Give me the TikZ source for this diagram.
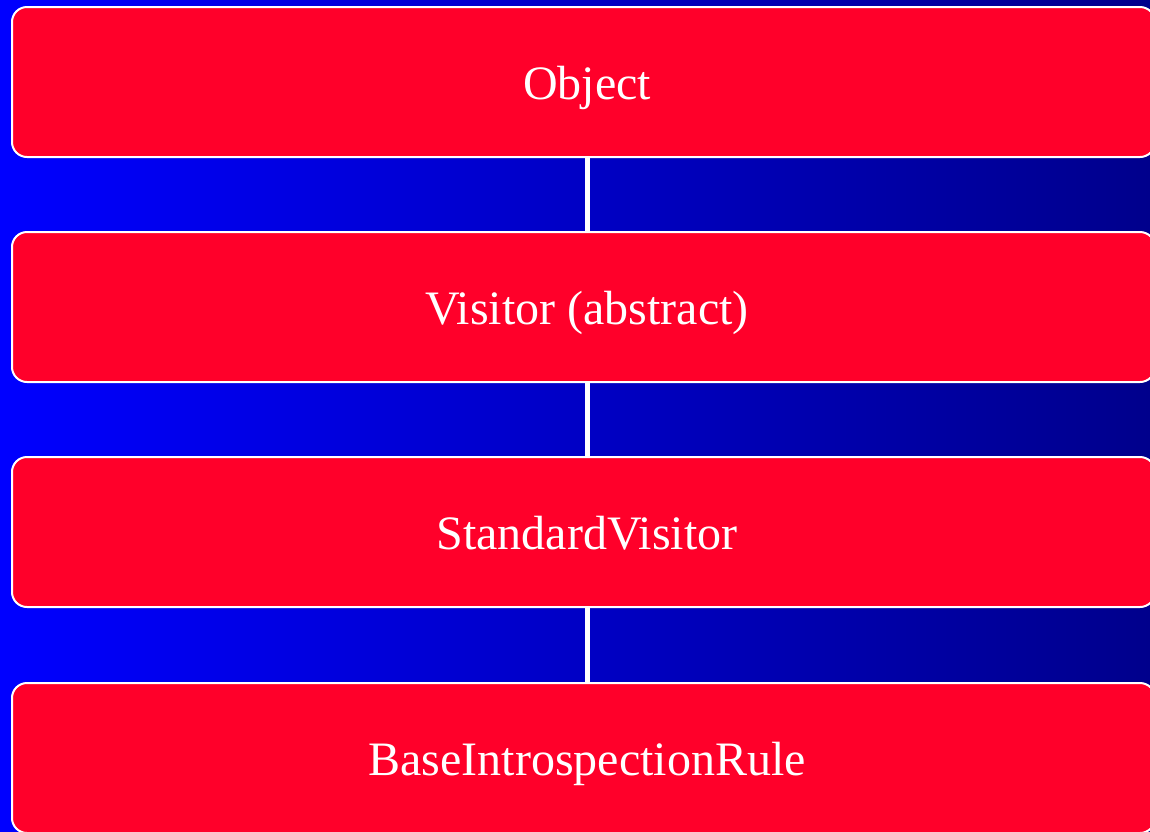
\documentclass[tikz,border=0pt]{standalone}
\usepackage{fontspec}
\setmainfont{Liberation Serif}
\definecolor{boxred}{RGB}{255,0,42}
\definecolor{bgleft}{RGB}{0,0,255}
\definecolor{bgright}{RGB}{0,0,140}
\begin{document}
\begin{tikzpicture}[x=1pt,y=-1pt,
  classbox/.style={draw=white, line width=2pt, fill=boxred, rounded corners=15pt,
    minimum width=1143pt, minimum height=150pt, inner sep=0pt,
    text=white, font=\fontsize{48}{56}\selectfont, text height=35.5pt, text depth=0pt,
    execute at begin node={\hspace*{7pt}}},
  link/.style={draw=white, line width=5pt}]
\useasboundingbox (0,0) rectangle (1150,831);
\shade[left color=bgleft, right color=bgright] (0,0) rectangle (1150,831);
\begin{scope}
\clip (0,0) rectangle (1150,831);
\node[classbox] (b1) at (583.5,82) {Object};
\node[classbox] (b2) at (583.5,307) {Visitor (abstract)};
\node[classbox] (b3) at (583.5,532) {StandardVisitor};
\node[classbox] (b4) at (583.5,758) {BaseIntrospectionRule};
\coordinate (cx) at (587.5,0);
\draw[link] (b1.south -| cx) -- (b2.north -| cx);
\draw[link] (b2.south -| cx) -- (b3.north -| cx);
\draw[link] (b3.south -| cx) -- (b4.north -| cx);
\end{scope}
\end{tikzpicture}
\end{document}
